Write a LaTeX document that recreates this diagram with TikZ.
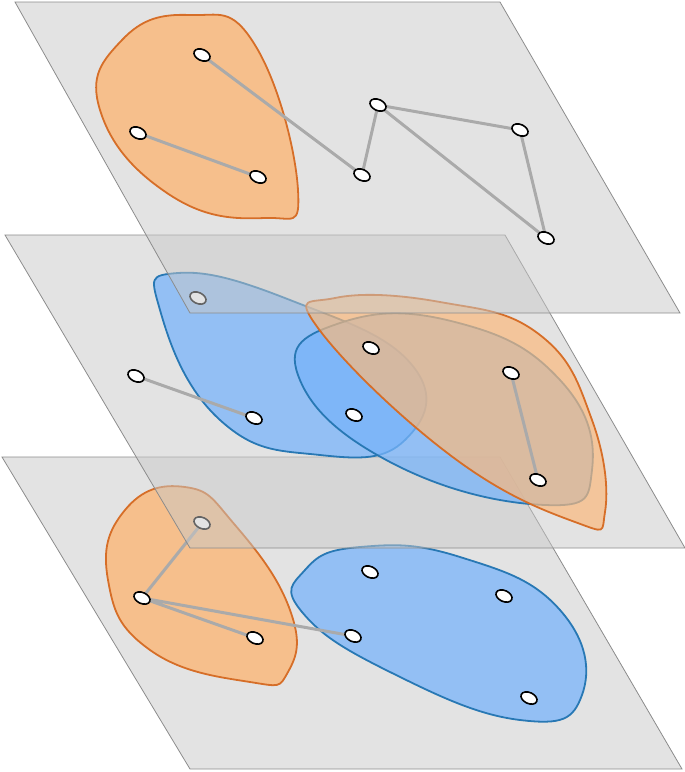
\documentclass[tikz,border=0pt]{standalone}
\usetikzlibrary{shapes.geometric}
\begin{document}
\begin{tikzpicture}[x=1pt,y=-1pt,
  plane/.style={fill={rgb,255:red,200;green,200;blue,200},fill opacity=0.5,draw={rgb,255:red,140;green,140;blue,140},line width=0.8pt},
  oblob/.style={fill={rgb,255:red,250;green,185;blue,125},fill opacity=0.85,draw={rgb,255:red,214;green,110;blue,40},line width=1.8pt},
  bblob/.style={fill={rgb,255:red,120;green,180;blue,250},fill opacity=0.75,draw={rgb,255:red,40;green,120;blue,180},line width=1.8pt},
  vtx/.style={draw=black,fill=white,line width=1.6pt,ellipse,minimum width=17pt,minimum height=11pt,inner sep=0pt,rotate=-25},
  edge/.style={draw={rgb,255:red,170;green,170;blue,170},line width=3pt}]
\useasboundingbox (0,0) rectangle (685,772);
% bottom plane
\path[plane] (2,457) -- (500,457) -- (682,769) -- (190,769) -- cycle;
\draw[oblob] plot[smooth cycle,tension=0.8] coordinates {(185,487) (235,525) (290,610) (288,672) (250,682) (150,650) (108,580) (125,510)};
\draw[bblob] plot[smooth cycle,tension=0.8] coordinates {(360,547) (460,557) (560,610) (582,695) (520,720) (390,672) (302,612) (305,570)};
\path[edge] (202,523) -- (142,598) (142,598) -- (255,638) (142,598) -- (353,636);
\node[vtx] (c1) at (202,523) {};
\node[vtx] (c2) at (142,598) {};
\node[vtx] (c3) at (255,638) {};
\node[vtx] (c4) at (353,636) {};
\node[vtx] (c5) at (370,572) {};
\node[vtx] (c6) at (504,596) {};
\node[vtx] (c7) at (529,698) {};
% middle plane
\path[plane] (5,235) -- (505,235) -- (685,548) -- (190,548) -- cycle;
\draw[bblob] plot[smooth cycle,tension=0.8] coordinates {(178,273) (290,300) (412,365) (405,440) (320,455) (220,420) (160,310)};
\draw[bblob] plot[smooth cycle,tension=0.8] coordinates {(340,323) (455,322) (560,380) (592,470) (545,505) (390,462) (298,375)};
\draw[oblob,fill opacity=0.7] plot[smooth cycle,tension=0.75] coordinates {(335,298) (440,302) (540,335) (592,420) (605,512) (575,522) (450,455) (318,328)};
\path[edge] (136,376) -- (254,418) (511,373) -- (538,480);
\node[vtx] (b1) at (198,298) {};
\node[vtx] (b2) at (136,376) {};
\node[vtx] (b3) at (254,418) {};
\node[vtx] (b4) at (371,348) {};
\node[vtx] (b5) at (354,415) {};
\node[vtx] (b6) at (511,373) {};
\node[vtx] (b7) at (538,480) {};
% top plane
\path[plane] (15,2) -- (500,2) -- (680,313) -- (190,313) -- cycle;
\draw[oblob] plot[smooth cycle,tension=0.8] coordinates {(190,15) (255,45) (298,190) (265,218) (170,195) (100,110) (122,40)};
\path[edge] (202,55) -- (362,175) (138,133) -- (258,177) (362,175) -- (378,105) (378,105) -- (520,130) (378,105) -- (546,238) (520,130) -- (546,238);
\node[vtx] (a1) at (202,55) {};
\node[vtx] (a2) at (138,133) {};
\node[vtx] (a3) at (258,177) {};
\node[vtx] (a4) at (362,175) {};
\node[vtx] (a5) at (378,105) {};
\node[vtx] (a6) at (520,130) {};
\node[vtx] (a7) at (546,238) {};
\end{tikzpicture}
\end{document}
